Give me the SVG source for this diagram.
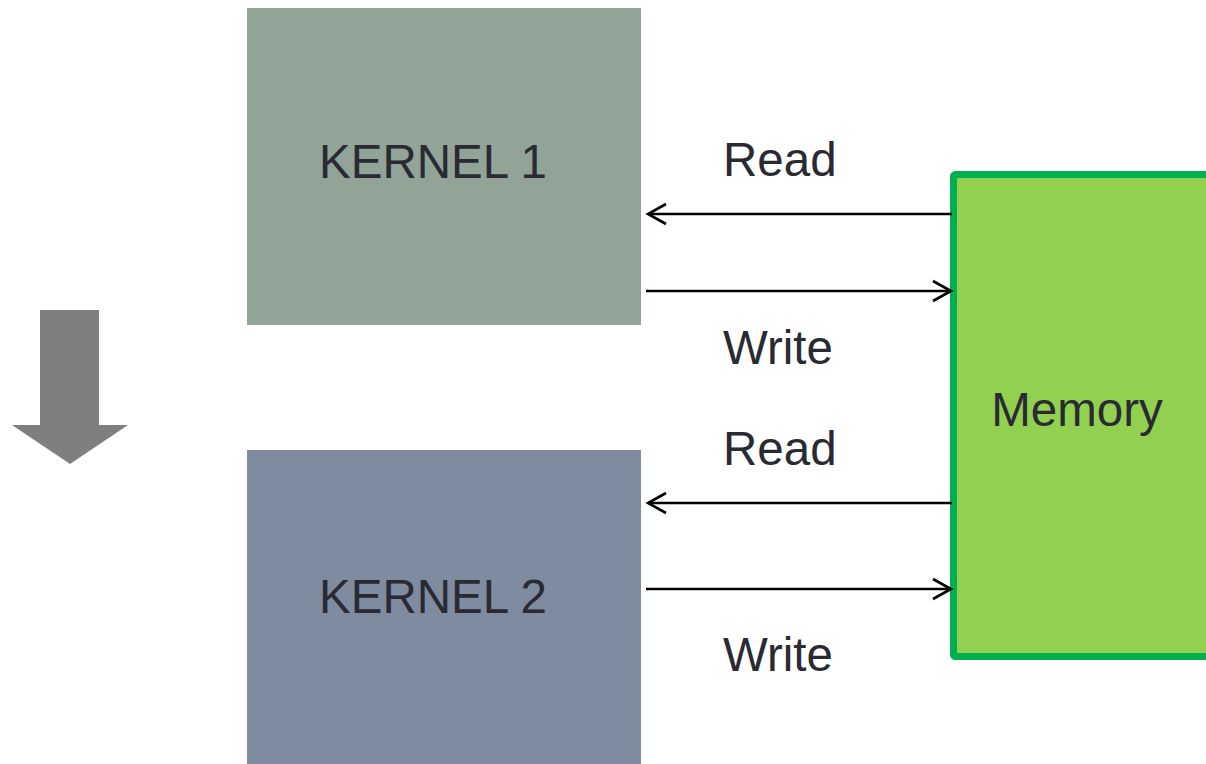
<svg xmlns="http://www.w3.org/2000/svg" width="1206" height="764" viewBox="0 0 1206 764">
<defs>
<style>
.lbl{font-family:"Liberation Sans",Arial,sans-serif;font-size:47.5px;fill:#2A2A33}
.conn{stroke:#000;stroke-width:2.6;fill:none}
</style>
<marker id="ah" markerUnits="userSpaceOnUse" markerWidth="24" markerHeight="26" refX="20" refY="12" orient="auto" viewBox="0 0 24 24">
<path d="M2,2 L20,12 L2,22" fill="none" stroke="#000" stroke-width="2.6"/>
</marker>
</defs>
<rect width="1206" height="764" fill="#fff"/>
<g id="flow-arrow">
<polygon points="40,310 99,310 99,425 128,425 70,464 12,425 40,425" fill="#7F7F7F"/>
</g>
<g id="kernel1">
<rect x="247" y="8" width="394" height="317" fill="#92A398"/>
<text class="lbl" x="433" y="178" text-anchor="middle">KERNEL 1</text>
</g>
<g id="kernel2">
<rect x="247" y="450" width="394" height="314" fill="#7F8B9F"/>
<text class="lbl" x="433" y="613" text-anchor="middle">KERNEL 2</text>
</g>
<g id="memory">
<rect x="953.5" y="174.5" width="270" height="482" rx="2" fill="#92D050" stroke="#00B050" stroke-width="7"/>
<text class="lbl" x="1077" y="426" text-anchor="middle">Memory</text>
</g>
<g id="connectors">
<line class="conn" x1="952" y1="214" x2="648" y2="214" marker-end="url(#ah)"/>
<line class="conn" x1="646" y1="291" x2="951" y2="291" marker-end="url(#ah)"/>
<line class="conn" x1="952" y1="503" x2="648" y2="503" marker-end="url(#ah)"/>
<line class="conn" x1="646" y1="589" x2="951" y2="589" marker-end="url(#ah)"/>
<text class="lbl" x="723" y="176">Read</text>
<text class="lbl" x="723" y="364">Write</text>
<text class="lbl" x="723" y="465">Read</text>
<text class="lbl" x="723" y="671">Write</text>
</g>
</svg>
